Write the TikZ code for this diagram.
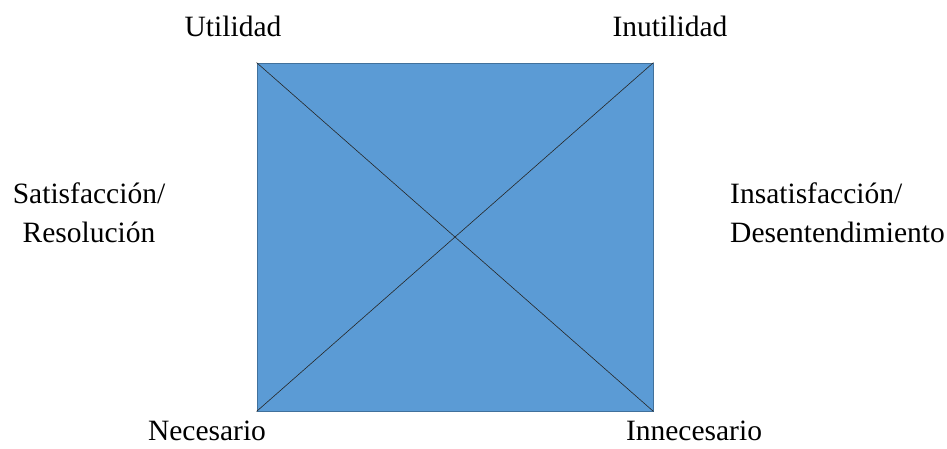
\documentclass[tikz,border=0pt]{standalone}
\usepackage{fontspec}
\setmainfont{Liberation Serif}
\definecolor{quadfill}{HTML}{5B9BD5}
\definecolor{quadedge}{HTML}{41719C}
\tikzset{quad/.style={draw=quadedge,thick,fill=quadfill,minimum width=396pt,minimum height=348pt,inner sep=0pt},
  lbl/.style={font=\fontsize{29.5}{39}\selectfont,inner sep=0pt}}
\begin{document}
\begin{tikzpicture}[x=1pt,y=-1pt]
\useasboundingbox (0,0) rectangle (947,448);
\node[quad] (sq) at (455,237) {}; \draw[black!85,semithick] (sq.north west) -- (sq.south east); \draw[black!85,semithick] (sq.south west) -- (sq.north east);
\node[lbl] (ut) at (233,26) {Utilidad}; \node[lbl] (inut) at (670,26) {Inutilidad};
\node[lbl,align=center] (sat) at (89,213) {Satisfacción/\\Resolución}; \node[lbl,align=left,anchor=west] (insat) at (730,213) {Insatisfacción/\\Desentendimiento};
\node[lbl] (nec) at (207,431) {Necesario}; \node[lbl] (innec) at (694,431) {Innecesario};
\end{tikzpicture}
\end{document}
